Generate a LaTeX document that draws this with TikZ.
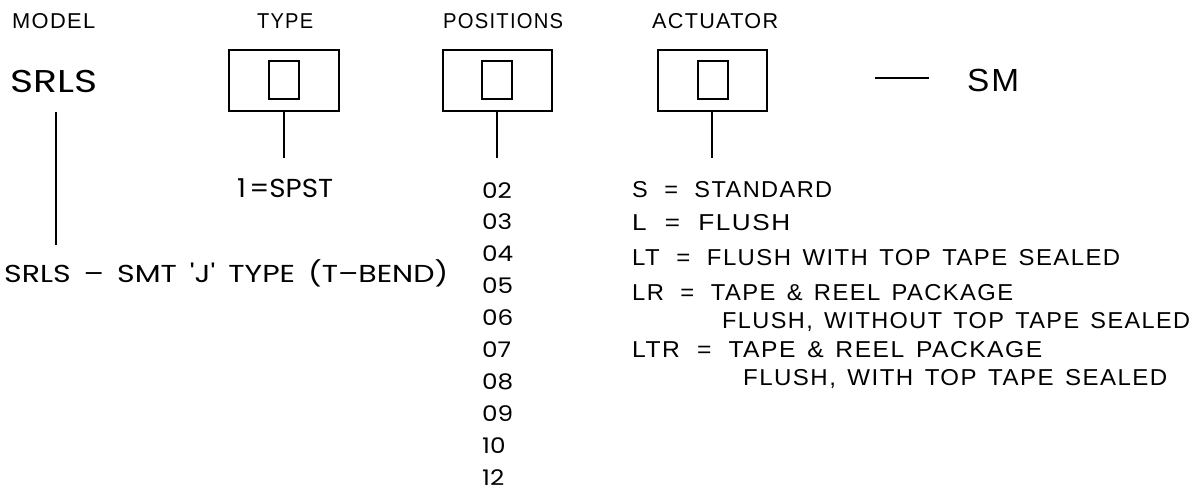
\documentclass[tikz,border=0pt]{standalone}
\usepackage{fontspec}
\usepackage{graphicx}
\setmainfont{Liberation Sans}
\newfontfamily\geo{Poppins}
\newfontfamily\cadf[LetterSpace=6]{Liberation Sans}
\newcommand\fw[2]{\resizebox{#1}{\height}{#2}}
\newcommand\wg{\hspace{11pt}}
\newcommand\eq{\hspace{16pt}=\hspace{16pt}}
\begin{document}
\begin{tikzpicture}[x=1pt,y=-1pt,
  txt/.style={anchor=base west,inner sep=0pt},
  hdr/.style={txt,font=\cadf\fontsize{21.5}{21.5}\selectfont},
  lst/.style={txt,font=\cadf\fontsize{23}{23}\selectfont},
  geotxt/.style={txt,font=\geo\fontsize{26}{26}\selectfont},
  numtxt/.style={txt,font=\geo\fontsize{21.5}{21.5}\selectfont},
  ln/.style={line width=1.8pt},
  ]
\useasboundingbox (0,0) rectangle (1194,491);
% headers
\node[hdr] (hmodel) at (12,28) {\fw{83pt}{MODEL}};
\node[hdr] (htype) at (257,28) {\fw{56pt}{TYPE}};
\node[hdr] (hpos) at (443,28) {\fw{120pt}{POSITIONS}};
\node[hdr] (hact) at (652,28) {\fw{126pt}{ACTUATOR}};
% model
\node[txt,font=\geo\fontsize{31.5}{31.5}\selectfont] (srls) at (10,92) {\fw{87pt}{SRLS}};
\coordinate (m1) at (56,112);
\coordinate (m2) at (56,245);
\draw[ln] (m1) -- (m2);
% boxes
\draw[ln] (229,50) rectangle (339,111);
\draw[ln] (269,61) rectangle (299,99);
\draw[ln] (443,50) rectangle (552,111);
\draw[ln] (482,61) rectangle (512,99);
\draw[ln] (658,50) rectangle (767,111);
\draw[ln] (698,61) rectangle (728,99);
\coordinate (t1) at (284,111); \coordinate (t2) at (284,158);
\coordinate (p1) at (497,111); \coordinate (p2) at (497,158);
\coordinate (a1) at (712,111); \coordinate (a2) at (712,158);
\draw[ln] (t1) -- (t2);
\draw[ln] (p1) -- (p2);
\draw[ln] (a1) -- (a2);
% SM
\coordinate (d1) at (875,78); \coordinate (d2) at (929,78);
\draw[ln] (d1) -- (d2);
\node[txt,font=\cadf\fontsize{32}{32}\selectfont] (sm) at (967,91) {\fw{52pt}{SM}};
% type
\node[geotxt] (spst) at (237,197) {\fw{96pt}{1\hspace{3pt}=SPST}};
% model desc
\node[geotxt,font=\geo\fontsize{24.5}{24.5}\selectfont] (mdesc) at (4,282) {\fw{444pt}{SRLS \,–\, SMT \,'J'\, TYPE \,(T–BEND)}};
% positions
\foreach \n [count=\i from 0] in {02,03,04,05,06,07,08,09,10,12}{
  \node[numtxt] (pos\n) at (482,{198+31.9*\i}) {\scalebox{1.15}[1]{\n}};
}
% actuator
\node[lst] (aS) at (632,197) {\fw{200pt}{S\eq STANDARD}};
\node[lst] (aL) at (632,230) {\fw{158pt}{L\eq FLUSH}};
\node[lst] (aLT) at (632,265) {\fw{488pt}{LT\eq FLUSH\wg WITH\wg TOP\wg TAPE\wg SEALED}};
\node[lst] (aLR) at (632,300) {\fw{381pt}{LR\eq TAPE\wg \&\wg REEL\wg PACKAGE}};
\node[lst] (aLR2) at (722,328) {\fw{468pt}{FLUSH,\wg WITHOUT\wg TOP\wg TAPE\wg SEALED}};
\node[lst] (aLTR) at (632,357) {\fw{410pt}{LTR\eq TAPE\wg \&\wg REEL\wg PACKAGE}};
\node[lst] (aLTR2) at (743,385) {\fw{424pt}{FLUSH,\wg WITH\wg TOP\wg TAPE\wg SEALED}};
\end{tikzpicture}
\end{document}
